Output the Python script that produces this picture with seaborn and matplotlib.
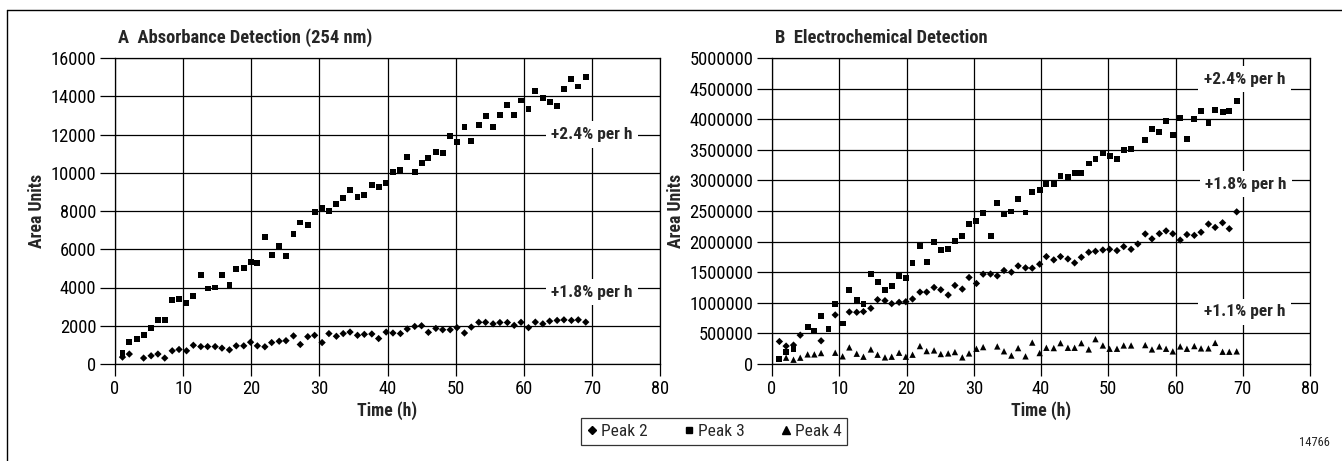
import numpy as np
import pandas as pd
import matplotlib
matplotlib.use("Agg")
import matplotlib.pyplot as plt
from matplotlib.lines import Line2D
import seaborn as sns

nan = np.nan

time_h = [1.1, 2.1, 3.2, 4.2, 5.3, 6.3, 7.3, 8.4, 9.4, 10.5, 11.5, 12.6, 13.6, 14.7, 15.7,
          16.8, 17.8, 18.9, 19.9, 20.9, 22.0, 23.0, 24.1, 25.1, 26.2, 27.2, 28.3, 29.3, 30.4,
          31.4, 32.5, 33.5, 34.5, 35.6, 36.6, 37.7, 38.7, 39.8, 40.8, 41.9, 42.9, 44.0, 45.0,
          46.0, 47.1, 48.1, 49.2, 50.2, 51.3, 52.3, 53.4, 54.4, 55.5, 56.5, 57.6, 58.6, 59.6,
          60.7, 61.7, 62.8, 63.8, 64.9, 65.9, 67.0, 68.0, 69.1]

# Panel A: absorbance detection
abs_peak2 = [360, 520, nan, 310, 430, 520, 310, 690, 760, 690, 980, 910, 910, 910, 830, 740,
             950, 950, 1140, 950, 900, 1120, 1190, 1220, 1470, 1020, 1430, 1500, 1120, 1590,
             1450, 1590, 1670, 1500, 1550, 1570, 1330, 1670, 1620, 1590, 1830, 1965, 2000, 1655,
             1860, 1790, 1790, 1900, 1620, 1930, 2180, 2180, 2100, 2170, 2170, 2020, 2180, 1900,
             2190, 2100, 2240, 2280, 2310, 2280, 2310, 2190]
abs_peak3 = [590, 1170, 1290, 1530, 1880, 2280, 2280, 3330, 3400, 3210, 3550, 4640, 3950, 4000,
             4640, 4150, 4950, 5000, 5340, 5260, 6620, 5710, 6190, 5650, 6790, 7400, 7280, 7950,
             8150, 7980, 8350, 8700, 9110, 8730, 8850, 9360, 9270, 9480, 10030, 10160, 10830,
             10030, 10520, 10760, 11100, 11030, 11900, 11620, 12380, 11650, 12510, 12970, 12380,
             13000, 13540, 13000, 13780, 13320, 14260, 13910, 13690, 13480, 14380, 14920, 14510,
             14990]

# Panel B: electrochemical detection
ec_peak2 = [368000, 293000, 309000, 471000, nan, nan, 379000, nan, 802000, nan, 850000, 845000,
            856000, 910000, 1051000, 1035000, 986000, 1008000, 1018000, 1062000, 1175000, 1175000,
            1251000, 1213000, 1127000, 1284000, 1224000, 1414000, 1316000, 1468000, 1470000,
            1440000, 1528000, 1500000, 1603000, 1571000, 1566000, 1631000, 1755000, 1701000,
            1755000, 1717000, 1652000, 1744000, 1826000, 1842000, 1863000, 1874000, 1853000,
            1918000, 1874000, 1961000, 2125000, 2045000, 2130000, 2175000, 2128000, 2025000,
            2115000, 2102000, 2153000, 2286000, 2232000, 2308000, 2210000, 2486000]
ec_peak3 = [87000, 195000, 238000, nan, 607000, 542000, 780000, 574000, 986000, 661000, 1208000,
            1040000, 980000, 1473000, 1333000, 1208000, 1268000, 1441000, 1408000, 1647000,
            1923000, 1668000, 1999000, 1858000, 1874000, 2015000, 2086000, 2291000, 2335000,
            2465000, 2096000, 2625000, 2454000, 2492000, 2703000, 2476000, 2806000, 2844000,
            2947000, 2947000, 3066000, 3050000, 3120000, 3120000, 3277000, 3348000, 3445000,
            3396000, 3348000, 3499000, 3516000, nan, 3667000, 3841000, 3792000, 3976000, 3738000,
            4025000, 3673000, 4003000, 4128000, 3944000, 4144000, 4117000, 4128000, 4301000]
ec_peak4 = [nan, 103000, 70000, 103000, 157000, 157000, 179000, nan, 184000, 125000, 271000,
            168000, 119000, 238000, 152000, 108000, 119000, 184000, 119000, 152000, 293000,
            211000, 222000, 163000, 173000, 195000, 108000, 173000, 249000, 276000, nan, 287000,
            208000, 138000, 260000, 125000, 350000, 179000, 265000, 260000, 341000, 265000,
            265000, 341000, 238000, 406000, 303000, 249000, 249000, 303000, 303000, nan, 309000,
            238000, 287000, 249000, 206000, 287000, 249000, 293000, 255000, 255000, 345000,
            200000, 200000, 206000]

series_names = ["Peak 2", "Peak 3", "Peak 4"]
titles = ["A  Absorbance Detection (254 nm)", "B  Electrochemical Detection"]
x_ticks = [0, 10, 20, 30, 40, 50, 60, 70, 80]
a_yticks = [0, 2000, 4000, 6000, 8000, 10000, 12000, 14000, 16000]
b_yticks = [0, 500000, 1000000, 1500000, 2000000, 2500000, 3000000, 3500000, 4000000,
            4500000, 5000000]
a_notes = [("+2.4% per h", 70, 12000), ("+1.8% per h", 70, 3750)]
b_notes = [("+2.4% per h", 70.3, 4650000), ("+1.8% per h", 70.5, 2940000),
           ("+1.1% per h", 70.3, 850000)]


def long_frame(series):
    rows = []
    for name, vals in series:
        for t, v in zip(time_h, vals):
            rows.append({"Time (h)": t, "Area Units": v, "peak": name})
    return pd.DataFrame(rows).dropna()


df_a = long_frame([("Peak 2", abs_peak2), ("Peak 3", abs_peak3)])
df_b = long_frame([("Peak 2", ec_peak2), ("Peak 3", ec_peak3), ("Peak 4", ec_peak4)])

sns.set_theme(style="ticks")
plt.rcParams["font.family"] = ["Roboto Condensed", "Fira Sans Condensed", "DejaVu Sans"]
plt.rcParams["axes.linewidth"] = 0.9

W, H = 1342, 461
fig = plt.figure(figsize=(W / 100, H / 100), dpi=100)

markers = {"Peak 2": "D", "Peak 3": "s", "Peak 4": "^"}
sizes = {"Peak 2": 14, "Peak 3": 18, "Peak 4": 21}


def draw(ax, df, yticks, ymax, notes, title):
    for name in series_names:
        sub = df[df["peak"] == name]
        if len(sub) == 0:
            continue
        sns.scatterplot(data=sub, x="Time (h)", y="Area Units", marker=markers[name],
                        s=sizes[name], color="black", edgecolor="none", linewidth=0,
                        ax=ax, legend=False, zorder=3)
    ax.set_xlim(0, 80)
    ax.set_ylim(0, ymax)
    ax.set_xticks(x_ticks)
    ax.set_yticks(yticks)
    ax.set_yticklabels([str(v) for v in yticks])
    ax.grid(True, color="black", linewidth=0.9, zorder=0)
    ax.set_axisbelow(True)
    for sp in ax.spines.values():
        sp.set_visible(True)
        sp.set_color("black")
        sp.set_linewidth(0.9)
    ax.tick_params(axis="x", direction="out", length=8.5, width=0.9, pad=3,
                   labelsize=13.3, colors="black")
    ax.tick_params(axis="y", direction="out", length=10.5, width=0.9, pad=3,
                   labelsize=13.3, colors="black")
    ax.set_xlabel("Time (h)", fontsize=12.8, fontweight="bold", labelpad=2)
    ax.set_ylabel("Area Units", fontsize=12.8, fontweight="bold", labelpad=3)
    ax.text(0.006, 1.035, title, transform=ax.transAxes, ha="left", va="bottom",
            fontsize=13.3, fontweight="bold")
    for txt, x, y in notes:
        ax.text(x, y, txt, ha="center", va="center", fontsize=12.5, fontweight="bold",
                zorder=4, bbox=dict(facecolor="white", edgecolor="none", pad=4))


ax_a = fig.add_axes([115 / W, 1 - 364 / H, 545 / W, 306 / H])
draw(ax_a, df_a, a_yticks, 16000, a_notes, titles[0])
ax_b = fig.add_axes([772 / W, 1 - 364 / H, 538 / W, 306 / H])
draw(ax_b, df_b, b_yticks, 5000000, b_notes, titles[1])

# outer frame (cropped at right and bottom)
fig.add_artist(Line2D([7 / W, 1], [1 - 10 / H, 1 - 10 / H], color="black", lw=1.0))
fig.add_artist(Line2D([7 / W, 7 / W], [0, 1 - 10 / H], color="black", lw=1.0))

handles = [Line2D([], [], linestyle="none", marker=markers[n], color="black",
                  markersize={"Peak 2": 4.5, "Peak 3": 5, "Peak 4": 5.5}[n]) for n in series_names]
leg = fig.legend(handles, series_names, loc="center", bbox_to_anchor=(714 / W, 1 - 431.5 / H),
                 ncol=3, frameon=True, fancybox=False, fontsize=12.5, handlelength=0.6,
                 handletextpad=0.2, columnspacing=2.1, borderpad=0.35, edgecolor="black")
leg.get_frame().set_linewidth(0.9)

fig.text(1314 / W, 1 - 442.5 / H, "14766", ha="center", va="center", fontsize=9)

fig.savefig("out.png", dpi=100)
